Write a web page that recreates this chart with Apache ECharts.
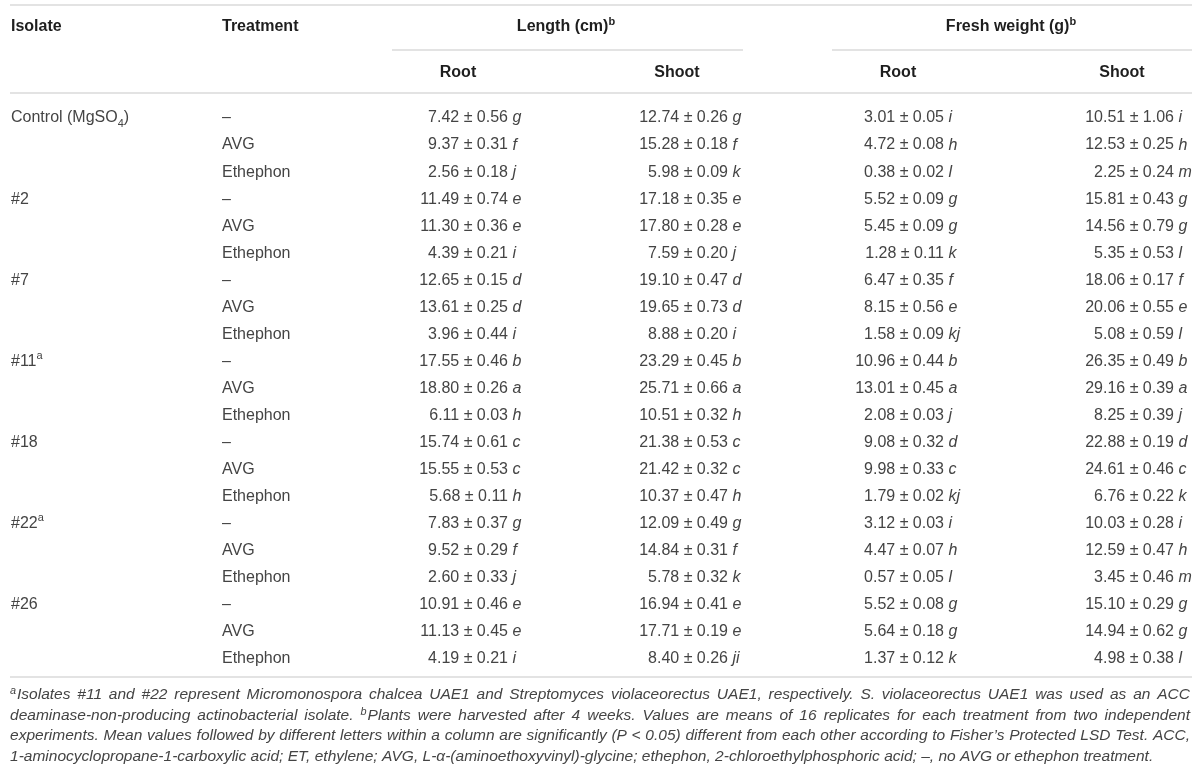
<!DOCTYPE html>
<html>
<head>
<meta charset="utf-8">
<script src="https://cdn.jsdelivr.net/npm/echarts/dist/echarts.min.js"></script>
<style>
  html, body { margin: 0; padding: 0; background: #fff; }
  #chart { width: 1200px; height: 773px; }
</style>
</head>
<body>
<div id="chart"></div>
<script>
// table data
var isolates = ['Control (MgSO{sub|4})', '#2', '#7', '#11{sup|a}', '#18', '#22{sup|a}', '#26'];
var treatments = ['–', 'AVG', 'Ethephon'];

var rootLenMean = [7.42, 9.37, 2.56, 11.49, 11.30, 4.39, 12.65, 13.61, 3.96, 17.55, 18.80, 6.11, 15.74, 15.55, 5.68, 7.83, 9.52, 2.60, 10.91, 11.13, 4.19];
var rootLenSd   = [0.56, 0.31, 0.18, 0.74, 0.36, 0.21, 0.15, 0.25, 0.44, 0.46, 0.26, 0.03, 0.61, 0.53, 0.11, 0.37, 0.29, 0.33, 0.46, 0.45, 0.21];
var rootLenGrp  = ['g', 'f', 'j', 'e', 'e', 'i', 'd', 'd', 'i', 'b', 'a', 'h', 'c', 'c', 'h', 'g', 'f', 'j', 'e', 'e', 'i'];

var shootLenMean = [12.74, 15.28, 5.98, 17.18, 17.80, 7.59, 19.10, 19.65, 8.88, 23.29, 25.71, 10.51, 21.38, 21.42, 10.37, 12.09, 14.84, 5.78, 16.94, 17.71, 8.40];
var shootLenSd   = [0.26, 0.18, 0.09, 0.35, 0.28, 0.20, 0.47, 0.73, 0.20, 0.45, 0.66, 0.32, 0.53, 0.32, 0.47, 0.49, 0.31, 0.32, 0.41, 0.19, 0.26];
var shootLenGrp  = ['g', 'f', 'k', 'e', 'e', 'j', 'd', 'd', 'i', 'b', 'a', 'h', 'c', 'c', 'h', 'g', 'f', 'k', 'e', 'e', 'ji'];

var rootFwMean = [3.01, 4.72, 0.38, 5.52, 5.45, 1.28, 6.47, 8.15, 1.58, 10.96, 13.01, 2.08, 9.08, 9.98, 1.79, 3.12, 4.47, 0.57, 5.52, 5.64, 1.37];
var rootFwSd   = [0.05, 0.08, 0.02, 0.09, 0.09, 0.11, 0.35, 0.56, 0.09, 0.44, 0.45, 0.03, 0.32, 0.33, 0.02, 0.03, 0.07, 0.05, 0.08, 0.18, 0.12];
var rootFwGrp  = ['i', 'h', 'l', 'g', 'g', 'k', 'f', 'e', 'kj', 'b', 'a', 'j', 'd', 'c', 'kj', 'i', 'h', 'l', 'g', 'g', 'k'];

var shootFwMean = [10.51, 12.53, 2.25, 15.81, 14.56, 5.35, 18.06, 20.06, 5.08, 26.35, 29.16, 8.25, 22.88, 24.61, 6.76, 10.03, 12.59, 3.45, 15.10, 14.94, 4.98];
var shootFwSd   = [1.06, 0.25, 0.24, 0.43, 0.79, 0.53, 0.17, 0.55, 0.59, 0.49, 0.39, 0.39, 0.19, 0.46, 0.22, 0.28, 0.47, 0.46, 0.29, 0.62, 0.38];
var shootFwGrp  = ['i', 'h', 'm', 'g', 'g', 'l', 'f', 'e', 'l', 'b', 'a', 'j', 'd', 'c', 'k', 'i', 'h', 'm', 'g', 'g', 'l'];

var groupHeaders = ['Length (cm){sup|b}', 'Fresh weight (g){sup|b}'];
var subHeaders = ['Root', 'Shoot', 'Root', 'Shoot'];

var footnotes = [
  '^aIsolates #11 and #22 represent Micromonospora chalcea UAE1 and Streptomyces violaceorectus UAE1, respectively. S. violaceorectus UAE1 was used as an ACC',
  'deaminase-non-producing actinobacterial isolate. ^bPlants were harvested after 4 weeks. Values are means of 16 replicates for each treatment from two independent',
  'experiments. Mean values followed by different letters within a column are significantly (P < 0.05) different from each other according to Fisher’s Protected LSD Test. ACC,',
  '1-aminocyclopropane-1-carboxylic acid; ET, ethylene; AVG, L-α-(aminoethoxyvinyl)-glycine; ethephon, 2-chloroethylphosphoric acid; –, no AVG or ethephon treatment.'
];

var measures = [
  { mean: rootLenMean, sd: rootLenSd, grp: rootLenGrp },
  { mean: shootLenMean, sd: shootLenSd, grp: shootLenGrp },
  { mean: rootFwMean, sd: rootFwSd, grp: rootFwGrp },
  { mean: shootFwMean, sd: shootFwSd, grp: shootFwGrp }
];

// layout
var FONT = '"Liberation Sans", Arial, Helvetica, sans-serif';
var BODY = '#444';
var HEAD = '#1e1e1e';
var RULE = '#dadada';
var colIsolate = 11, colTreat = 222;
var sdEnd = [508, 728, 944, 1174];          // right edge of "mean ± sd"
var subX = [458, 677, 898, 1122];
var groupX = [566, 1011];

var rowIdx = rootLenMean.map(function (v, i) { return i; });
var richSub = {
  sub: { fontSize: 11, lineHeight: 11, verticalAlign: 'bottom', fontFamily: FONT, fill: BODY },
  sup: { fontSize: 11, lineHeight: 11, verticalAlign: 'top', fontFamily: FONT, fill: BODY }
};
var richHead = {
  sup: { fontSize: 11, lineHeight: 11, verticalAlign: 'top', fontFamily: FONT, fontWeight: 'bold', fill: HEAD }
};

function txt(x, y, text, align, extra) {
  var st = {
    x: x, y: y, text: text, textAlign: align, textVerticalAlign: 'middle',
    fontSize: 16, lineHeight: 22, fontFamily: FONT, fill: BODY, rich: richSub
  };
  if (extra) for (var k in extra) st[k] = extra[k];
  return { type: 'text', style: st };
}

function renderRow(params, api) {
  var r = api.value(1);
  var y = api.coord([0, r])[1];
  var kids = [];
  if (r % 3 === 0) kids.push(txt(api.coord([colIsolate, r])[0], y, isolates[r / 3], 'left'));
  kids.push(txt(api.coord([colTreat, r])[0], y, treatments[r % 3], 'left'));
  measures.forEach(function (m, c) {
    var x = api.coord([sdEnd[c], r])[0];
    kids.push(txt(x, y, m.mean[r].toFixed(2) + ' ± ' + m.sd[r].toFixed(2), 'right'));
    kids.push(txt(x + 4.5, y, m.grp[r], 'left', { fontStyle: 'italic' }));
  });
  return { type: 'group', children: kids };
}

// header, rules and footnote as graphic elements
var graphics = [];
function rule(x1, x2, y) {
  graphics.push({ type: 'line', shape: { x1: x1, y1: y, x2: x2, y2: y }, style: { stroke: RULE, lineWidth: 1.5 }, silent: true });
}
rule(10, 1192, 5);
rule(392, 743, 50);
rule(832, 1192, 50);
rule(10, 1192, 93);
rule(10, 1192, 677);

function headText(x, y, text, align) {
  graphics.push({
    type: 'text', x: x, y: y,
    style: { text: text, textAlign: align, textVerticalAlign: 'middle', fontSize: 16, lineHeight: 22,
             fontWeight: 'bold', fontFamily: FONT, fill: HEAD, rich: richHead }
  });
}
headText(colIsolate, 27, 'Isolate', 'left');
headText(colTreat, 27, 'Treatment', 'left');
groupHeaders.forEach(function (h, i) { headText(groupX[i], 27, h, 'center'); });
subHeaders.forEach(function (h, i) { headText(subX[i], 73, h, 'center'); });

// justified italic footnote
var ctx = document.createElement('canvas').getContext('2d');
function measure(s, size) {
  ctx.font = 'italic ' + size + 'px ' + FONT;
  return ctx.measureText(s).width;
}
function splitWords(line) {
  return line.split(' ').map(function (w) {
    if (w.charAt(0) === '^') return { sup: w.charAt(1), rest: w.slice(2) };
    return { sup: '', rest: w };
  });
}
function wordWidth(w, fs) {
  return (w.sup ? measure(w.sup, fs * 0.7) + 1 : 0) + measure(w.rest, fs);
}
var lastWords = splitWords(footnotes[3]);
var natural = lastWords.reduce(function (s, w) { return s + wordWidth(w, 14); }, 0) + measure(' ', 14) * (lastWords.length - 1);
var fnSize = 14 * 1145 / natural;
var fnLeft = 10, fnRight = 1190;
var fnY = [695, 715.5, 736, 756.5];

footnotes.forEach(function (line, li) {
  var words = splitWords(line);
  var total = words.reduce(function (s, w) { return s + wordWidth(w, fnSize); }, 0);
  var gap = li < footnotes.length - 1 ? (fnRight - fnLeft - total) / (words.length - 1) : measure(' ', fnSize);
  var x = fnLeft;
  words.forEach(function (w) {
    if (w.sup) {
      graphics.push({ type: 'text', x: x, y: fnY[li] - 4,
        style: { text: w.sup, textVerticalAlign: 'middle', fontSize: fnSize * 0.7, fontStyle: 'italic', fontFamily: FONT, fill: BODY } });
      x += measure(w.sup, fnSize * 0.7) + 1;
    }
    graphics.push({ type: 'text', x: x, y: fnY[li],
      style: { text: w.rest, textVerticalAlign: 'middle', fontSize: fnSize, fontStyle: 'italic', fontFamily: FONT, fill: BODY } });
    x += measure(w.rest, fnSize) + gap;
  });
});

var chart = echarts.init(document.getElementById('chart'), null, { renderer: 'canvas' });
chart.setOption({
  animation: false,
  backgroundColor: '#fff',
  grid: { left: 0, right: 0, top: 104.5, height: 568 },
  xAxis: { type: 'value', min: 0, max: 1200, show: false },
  yAxis: { type: 'category', data: rowIdx, inverse: true, show: false },
  graphic: graphics,
  series: [{
    type: 'custom',
    renderItem: renderRow,
    encode: { x: 0, y: 1 },
    data: rowIdx.map(function (i) { return [0, i]; }),
    silent: true
  }]
});
</script>
</body>
</html>
